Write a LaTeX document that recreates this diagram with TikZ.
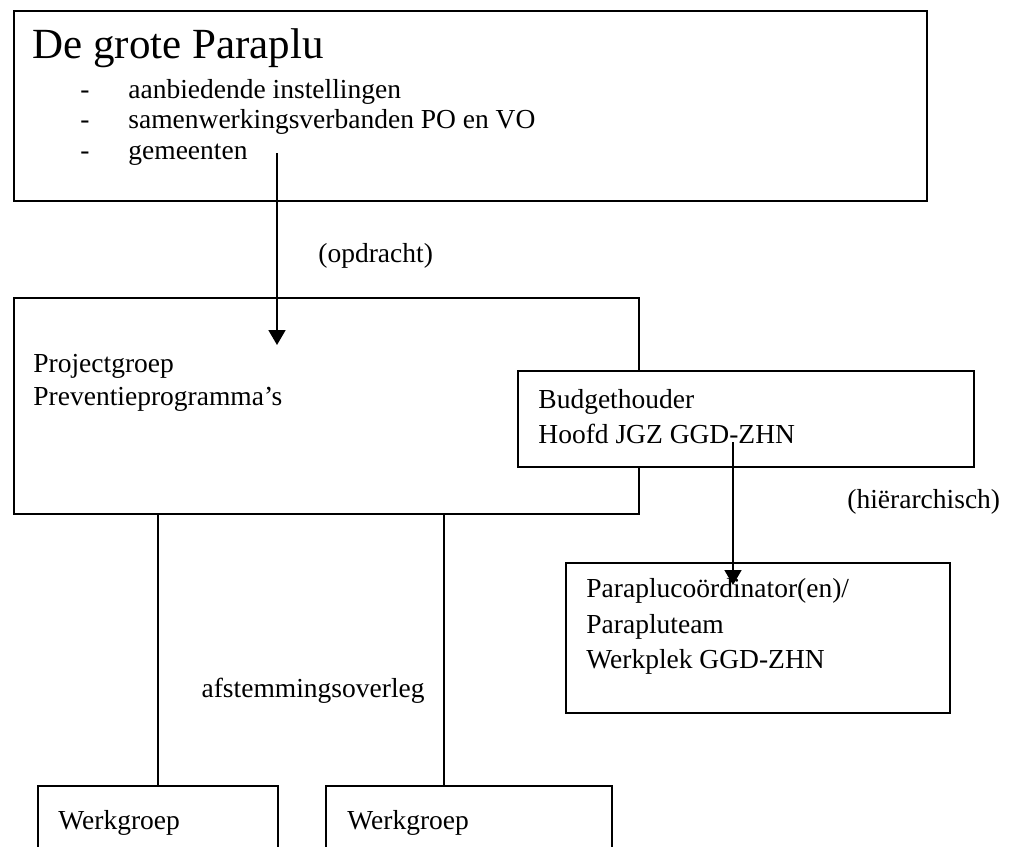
\documentclass[tikz,border=0pt]{standalone}
\usepackage{fontspec}
\setmainfont{Liberation Serif}
\usetikzlibrary{arrows.meta}
\tikzset{
    box/.style={draw, line width=1pt, anchor=north west, inner sep=0pt},
    txt/.style={anchor=base west, inner sep=0pt, font=\fontsize{13.75}{16}\selectfont},
    titel/.style={txt, font=\fontsize{21.5}{25}\selectfont},
    lijn/.style={line width=0.9pt},
    pijl/.style={lijn, -{Triangle[width=8.5pt,length=7.5pt]}},
}
\begin{document}
\begin{tikzpicture}[x=0.5pt, y=-0.5pt]
    \useasboundingbox (0,0) rectangle (1017,846);
    \clip (0,0) rectangle (1017,846);
    % de grote paraplu
    \node[box, minimum width=456.5pt, minimum height=95pt] (paraplu) at (12.5,10) {};
    \node[titel] (titel) at (32,58) {De grote Paraplu};
    \node[txt] (s1) at (80,98) {-};
    \node[txt] (s2) at (80,128.5) {-};
    \node[txt] (s3) at (80,159) {-};
    \node[txt] (p1) at (128,98) {aanbiedende instellingen};
    \node[txt] (p2) at (128,128.5) {samenwerkingsverbanden PO en VO};
    \node[txt] (p3) at (128,159) {gemeenten};
    \node[txt] (opdracht) at (318,262) {(opdracht)};
    % projectgroep en budgethouder
    \node[box, minimum width=312.5pt, minimum height=108pt] (projgroep) at (12.5,297) {};
    \node[txt] (pg1) at (33,372) {Projectgroep};
    \node[txt] (pg2) at (33,405) {Preventieprogramma’s};
    \node[box, fill=white, minimum width=228pt, minimum height=48pt] (budget) at (517,370) {};
    \node[txt] (bh1) at (538,408) {Budgethouder};
    \node[txt] (bh2) at (538,443) {Hoofd JGZ GGD-ZHN};
    \node[txt] (hier) at (847,508) {(hiërarchisch)};
    % paraplucoordinator
    \node[box, minimum width=192pt, minimum height=75pt] (coord) at (565,562) {};
    \node[txt] (pc1) at (586,597) {Paraplucoördinator(en)/};
    \node[txt] (pc2) at (586,633) {Parapluteam};
    \node[txt] (pc3) at (586,668) {Werkplek GGD-ZHN};
    % werkgroepen
    \node[txt, anchor=base east] (afst) at (425,697) {afstemmingsoverleg};
    \node[box, minimum width=120pt, minimum height=47.5pt] (werk1) at (37,785) {};
    \node[box, minimum width=143pt, minimum height=47.5pt] (werk2) at (325,785) {};
    \node[txt] (wg1) at (58,829) {Werkgroep};
    \node[txt] (wg2) at (347,829) {Werkgroep};
    % verbindingen
    \coordinate (opdrA) at (277,153);
    \coordinate (opdrB) at (277,345);
    \coordinate (hierA) at (733,442);
    \coordinate (hierB) at (733,585);
    \coordinate (w2in) at (444,785);
    \draw[pijl] (opdrA) -- (opdrB);
    \draw[pijl] (hierA) -- (hierB);
    \draw[lijn] (projgroep.south -| werk1.north) -- (werk1.north);
    \draw[lijn] (projgroep.south -| w2in) -- (w2in);
\end{tikzpicture}
\end{document}
